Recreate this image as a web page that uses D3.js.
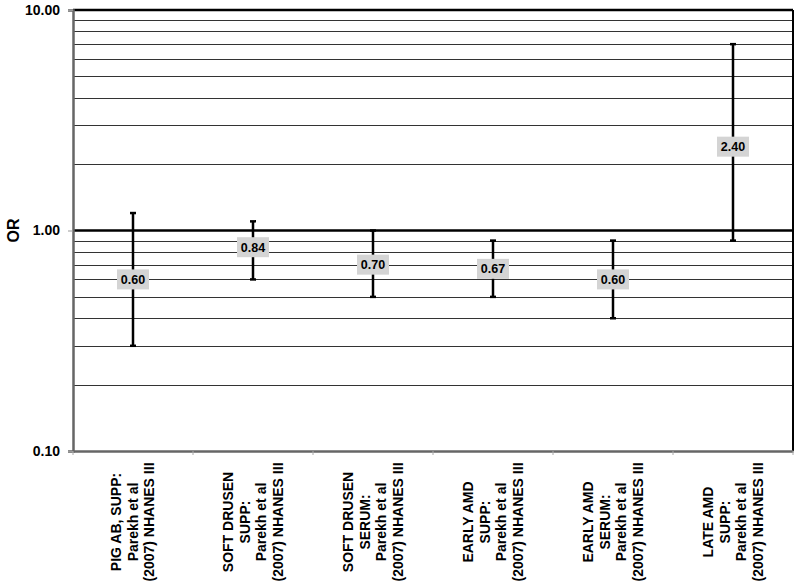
<!DOCTYPE html>
<html>
<head>
<meta charset="utf-8">
<script src="https://cdn.jsdelivr.net/npm/d3@7"></script>
<style>
  body { margin: 0; background: #fff; }
  text { font-family: "Liberation Sans", Arial, sans-serif; font-weight: bold; }
</style>
</head>
<body>
<script>
// chart data
var categories = [
  ["PIG AB, SUPP:", "Parekh et al", "(2007) NHANES III"],
  ["SOFT DRUSEN", "SUPP:", "Parekh et al", "(2007) NHANES III"],
  ["SOFT DRUSEN", "SERUM:", "Parekh et al", "(2007) NHANES III"],
  ["EARLY AMD", "SUPP:", "Parekh et al", "(2007) NHANES III"],
  ["EARLY AMD", "SERUM:", "Parekh et al", "(2007) NHANES III"],
  ["LATE AMD", "SUPP:", "Parekh et al", "(2007) NHANES III"]
];
var orValues = [0.60, 0.84, 0.70, 0.67, 0.60, 2.40];
var lowerCI = [0.30, 0.60, 0.50, 0.50, 0.40, 0.90];
var upperCI = [1.20, 1.10, 1.00, 0.90, 0.90, 7.00];
var yTicks = [0.1, 1, 10];

var svgWidth = 800;
var svgHeight = 588;
var margin = { top: 10, right: 7, bottom: 137, left: 73 };
var chartWidth = svgWidth - margin.left - margin.right;
var chartHeight = svgHeight - margin.top - margin.bottom;

var svg = d3.select("body")
  .append("svg")
  .attr("width", svgWidth)
  .attr("height", svgHeight);

var chartGroup = svg.append("g")
  .attr("transform", `translate(${margin.left}, ${margin.top})`);

var xScale = d3.scaleBand()
  .domain(d3.range(categories.length))
  .range([0, chartWidth]);

var yScale = d3.scaleLog()
  .domain([0.1, 10])
  .range([chartHeight, 0]);

// minor gridlines: 2..9 within each decade
var gridVals = [];
[0.1, 1].forEach(function(dec) {
  for (var k = 2; k <= 9; k++) gridVals.push(dec * k);
});
chartGroup.selectAll(".grid")
  .data(gridVals)
  .enter()
  .append("line")
  .attr("x1", 0)
  .attr("x2", chartWidth)
  .attr("y1", d => Math.round(yScale(d)) + 0.5)
  .attr("y2", d => Math.round(yScale(d)) + 0.5)
  .attr("stroke", "#333")
  .attr("stroke-width", 1.2);

// reference line at 1, top and right borders
chartGroup.append("line")
  .attr("x1", 0).attr("x2", chartWidth)
  .attr("y1", yScale(1)).attr("y2", yScale(1))
  .attr("stroke", "#000").attr("stroke-width", 2.5);
chartGroup.append("line")
  .attr("x1", 0).attr("x2", chartWidth)
  .attr("y1", yScale(10)).attr("y2", yScale(10))
  .attr("stroke", "#000").attr("stroke-width", 2.5);
chartGroup.append("line")
  .attr("x1", chartWidth).attr("x2", chartWidth)
  .attr("y1", 0).attr("y2", chartHeight)
  .attr("stroke", "#000").attr("stroke-width", 2);

// y axis
var leftAxis = d3.axisLeft(yScale)
  .tickValues(yTicks)
  .tickFormat(d3.format(".2f"))
  .tickSize(5)
  .tickPadding(8);
var yAxis = chartGroup.append("g")
  .classed("y-axis", true)
  .call(leftAxis);
yAxis.select(".domain").attr("stroke", "#666").attr("stroke-width", 2.5);
yAxis.selectAll(".tick line").attr("stroke", "#999");
yAxis.selectAll("text")
  .attr("font-size", 14)
  .attr("fill", "#000")
  .attr("font-family", "Liberation Sans, Arial, sans-serif");

// x axis
var bottomAxis = d3.axisBottom(xScale).tickSize(0).tickFormat("");
var xAxis = chartGroup.append("g")
  .classed("x-axis", true)
  .attr("transform", `translate(0, ${chartHeight})`)
  .call(bottomAxis);
xAxis.select(".domain").attr("stroke", "#666").attr("stroke-width", 2.5);
chartGroup.selectAll(".xtick")
  .data(d3.range(categories.length + 1))
  .enter()
  .append("line")
  .attr("x1", d => d * xScale.bandwidth())
  .attr("x2", d => d * xScale.bandwidth())
  .attr("y1", chartHeight)
  .attr("y2", chartHeight + 4)
  .attr("stroke", "#aaa");

// category labels, rotated
var lineH = 16.5;
categories.forEach(function(lines, i) {
  var cx = xScale(i) + xScale.bandwidth() / 2;
  var g = chartGroup.append("g")
    .attr("transform", `translate(${cx}, ${chartHeight + 71}) rotate(-90)`);
  var n = lines.length;
  lines.forEach(function(t, j) {
    g.append("text")
      .attr("x", 0)
      .attr("y", (j - (n - 1) / 2) * lineH)
      .attr("dy", "0.35em")
      .attr("text-anchor", "middle")
      .attr("font-size", 14)
      .text(t);
  });
});

// error bars
var capW = 3;
var bars = chartGroup.selectAll(".err")
  .data(orValues)
  .enter()
  .append("g")
  .attr("transform", (d, i) => `translate(${xScale(i) + xScale.bandwidth() / 2}, 0)`);
bars.append("line")
  .attr("y1", (d, i) => yScale(lowerCI[i]))
  .attr("y2", (d, i) => yScale(upperCI[i]))
  .attr("stroke", "#000").attr("stroke-width", 2.5);
bars.append("line")
  .attr("x1", -capW).attr("x2", capW)
  .attr("y1", (d, i) => yScale(lowerCI[i]))
  .attr("y2", (d, i) => yScale(lowerCI[i]))
  .attr("stroke", "#000").attr("stroke-width", 2.5);
bars.append("line")
  .attr("x1", -capW).attr("x2", capW)
  .attr("y1", (d, i) => yScale(upperCI[i]))
  .attr("y2", (d, i) => yScale(upperCI[i]))
  .attr("stroke", "#000").attr("stroke-width", 2.5);

// value labels
bars.append("rect")
  .attr("x", -16)
  .attr("y", d => yScale(d) - 10)
  .attr("width", 32)
  .attr("height", 20)
  .attr("fill", "#d4d4d4");
bars.append("text")
  .attr("y", d => yScale(d))
  .attr("dy", "0.36em")
  .attr("text-anchor", "middle")
  .attr("font-size", 12.5)
  .text(d => d3.format(".2f")(d));

// y axis title
svg.append("text")
  .attr("transform", `translate(19, ${margin.top + yScale(1)}) rotate(-90)`)
  .attr("text-anchor", "middle")
  .attr("font-size", 16)
  .text("OR");
</script>
</body>
</html>
